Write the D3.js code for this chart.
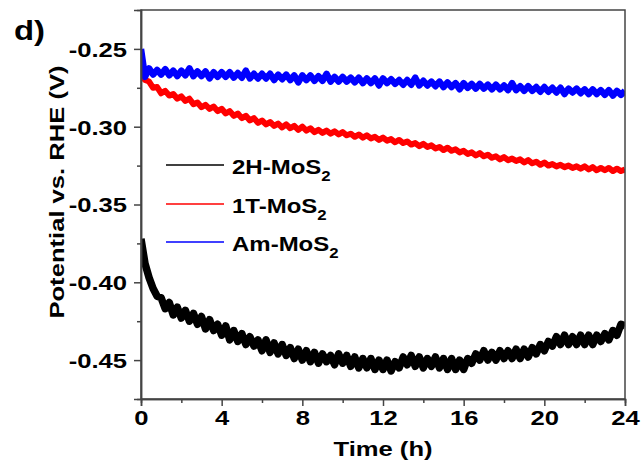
<!DOCTYPE html>
<html><head><meta charset="utf-8">
<script src="https://cdn.jsdelivr.net/npm/d3@7"></script>
<style>
html,body{margin:0;padding:0;background:#fff;}
svg text{font-family:"Liberation Sans",Arial,sans-serif;font-weight:bold;fill:#000;}
</style></head>
<body><svg id="chart" width="641" height="461"></svg>
<script>
// ---- data ----
const sampleStep = 0.2; // h between samples
const seriesNames = ["2H-MoS", "1T-MoS", "Am-MoS"];
const seriesColors = ["#000000", "#ff0000", "#0000ff"];
const xTicks = [0, 4, 8, 12, 16, 20, 24];
const yTicks = [-0.45, -0.40, -0.35, -0.30, -0.25];

const black2H = [
-0.372,-0.388,-0.397,-0.404,-0.409,-0.410,-0.417,-0.413,-0.421,-0.416,
-0.423,-0.418,-0.425,-0.420,-0.427,-0.422,-0.430,-0.424,-0.431,-0.427,
-0.434,-0.428,-0.437,-0.431,-0.438,-0.433,-0.440,-0.435,-0.441,-0.437,
-0.444,-0.437,-0.445,-0.439,-0.446,-0.440,-0.447,-0.442,-0.449,-0.443,
-0.450,-0.444,-0.451,-0.445,-0.452,-0.446,-0.451,-0.447,-0.453,-0.446,
-0.452,-0.447,-0.454,-0.448,-0.455,-0.449,-0.455,-0.449,-0.456,-0.450,
-0.456,-0.450,-0.457,-0.451,-0.455,-0.448,-0.453,-0.447,-0.454,-0.448,
-0.455,-0.449,-0.454,-0.448,-0.455,-0.449,-0.456,-0.449,-0.456,-0.450,
-0.456,-0.449,-0.452,-0.446,-0.450,-0.444,-0.450,-0.445,-0.450,-0.444,
-0.449,-0.444,-0.449,-0.443,-0.449,-0.443,-0.448,-0.442,-0.446,-0.440,
-0.444,-0.438,-0.441,-0.435,-0.440,-0.434,-0.440,-0.435,-0.440,-0.434,
-0.440,-0.434,-0.440,-0.434,-0.438,-0.433,-0.437,-0.431,-0.434,-0.427,
-0.428];

const red1T = [
-0.2650,-0.2700,-0.2710,-0.2750,-0.2745,-0.2785,-0.2770,-0.2800,-0.2790,-0.2820,
-0.2805,-0.2835,-0.2820,-0.2855,-0.2845,-0.2875,-0.2860,-0.2885,-0.2870,-0.2900,
-0.2885,-0.2915,-0.2900,-0.2930,-0.2915,-0.2945,-0.2930,-0.2960,-0.2945,-0.2975,
-0.2960,-0.2985,-0.2970,-0.2995,-0.2980,-0.3005,-0.2985,-0.3010,-0.2995,-0.3020,
-0.3000,-0.3025,-0.3010,-0.3035,-0.3020,-0.3040,-0.3025,-0.3045,-0.3030,-0.3050,
-0.3035,-0.3055,-0.3045,-0.3065,-0.3050,-0.3070,-0.3055,-0.3075,-0.3065,-0.3085,
-0.3070,-0.3090,-0.3080,-0.3100,-0.3085,-0.3105,-0.3095,-0.3115,-0.3105,-0.3125,
-0.3110,-0.3130,-0.3120,-0.3140,-0.3130,-0.3150,-0.3135,-0.3155,-0.3145,-0.3165,
-0.3155,-0.3175,-0.3165,-0.3185,-0.3170,-0.3190,-0.3180,-0.3200,-0.3190,-0.3210,
-0.3195,-0.3215,-0.3205,-0.3220,-0.3210,-0.3230,-0.3215,-0.3235,-0.3225,-0.3245,
-0.3230,-0.3250,-0.3240,-0.3255,-0.3245,-0.3260,-0.3250,-0.3265,-0.3255,-0.3270,
-0.3255,-0.3275,-0.3260,-0.3280,-0.3265,-0.3280,-0.3265,-0.3285,-0.3270,-0.3285,
-0.3275];

const blueAm = [
-0.2500,-0.2680,-0.2625,-0.2665,-0.2635,-0.2665,-0.2630,-0.2670,-0.2640,-0.2675,
-0.2640,-0.2670,-0.2625,-0.2675,-0.2645,-0.2675,-0.2645,-0.2690,-0.2650,-0.2680,
-0.2650,-0.2680,-0.2650,-0.2685,-0.2655,-0.2685,-0.2640,-0.2690,-0.2660,-0.2690,
-0.2660,-0.2690,-0.2660,-0.2700,-0.2665,-0.2695,-0.2665,-0.2700,-0.2670,-0.2715,
-0.2670,-0.2700,-0.2670,-0.2705,-0.2675,-0.2705,-0.2660,-0.2710,-0.2680,-0.2710,
-0.2680,-0.2710,-0.2685,-0.2715,-0.2685,-0.2720,-0.2690,-0.2720,-0.2690,-0.2735,
-0.2690,-0.2720,-0.2695,-0.2725,-0.2700,-0.2730,-0.2700,-0.2730,-0.2685,-0.2735,
-0.2705,-0.2735,-0.2710,-0.2740,-0.2710,-0.2745,-0.2715,-0.2745,-0.2720,-0.2760,
-0.2720,-0.2750,-0.2725,-0.2755,-0.2725,-0.2755,-0.2730,-0.2760,-0.2730,-0.2760,
-0.2735,-0.2765,-0.2720,-0.2765,-0.2740,-0.2770,-0.2740,-0.2770,-0.2745,-0.2775,
-0.2745,-0.2775,-0.2750,-0.2780,-0.2750,-0.2790,-0.2755,-0.2780,-0.2755,-0.2785,
-0.2760,-0.2790,-0.2760,-0.2790,-0.2765,-0.2795,-0.2765,-0.2800,-0.2770,-0.2795,
-0.2770];

const seriesValues = [black2H, red1T, blueAm];

// ---- layout ----
const L = 141, R = 625, T = 10, B = 399;
const SX = 1.22; // horizontal text stretch
const svg = d3.select("#chart");
const x = d3.scaleLinear().domain([0, 24]).range([L, R]);
const y = d3.scaleLinear().domain([-0.475, -0.225]).range([B, T]);

svg.append("defs").append("clipPath").attr("id", "clip")
  .append("rect").attr("x", L).attr("y", T).attr("width", R - L).attr("height", B - T);

const line = d3.line().x((d, i) => x(i * sampleStep)).y(d => y(d));
const widths = [7.5, 6, 6.5];
seriesValues.forEach((vals, k) => {
  svg.append("path").datum(vals)
    .attr("clip-path", "url(#clip)")
    .attr("fill", "none")
    .attr("stroke", seriesColors[k])
    .attr("stroke-width", widths[k])
    .attr("stroke-linejoin", "round")
    .attr("d", line);
});

// frame
svg.append("rect").attr("x", L).attr("y", T).attr("width", R - L).attr("height", B - T)
  .attr("fill", "none").attr("stroke", "#444").attr("stroke-width", 1.5);

// axes
const fmt = d => d3.format(".2f")(d).replace("\u2212", "-");
const yAxis = d3.axisLeft(y).tickValues(yTicks).tickFormat(fmt).tickSize(7).tickPadding(5);
const gy = svg.append("g").attr("transform", `translate(${L},0)`).call(yAxis);
const yMinor = d3.axisLeft(y).tickValues([-0.425, -0.375, -0.325, -0.275]).tickFormat("").tickSize(4);
svg.append("g").attr("transform", `translate(${L},0)`).call(yMinor);

const xAxis = d3.axisBottom(x).tickValues(xTicks).tickFormat(d3.format("d")).tickSize(7).tickPadding(4);
const gx = svg.append("g").attr("transform", `translate(0,${B})`).call(xAxis);
const xMinor = d3.axisBottom(x).tickValues([2, 6, 10, 14, 18, 22]).tickFormat("").tickSize(4);
svg.append("g").attr("transform", `translate(0,${B})`).call(xMinor);

svg.selectAll(".domain").attr("stroke", "#444").attr("stroke-width", 1.5);
svg.selectAll(".tick line").attr("stroke", "#444").attr("stroke-width", 1.5);
svg.selectAll(".tick text").style("font-size", "21px").style("font-family", '"Liberation Sans",Arial,sans-serif').style("font-weight", "bold").attr("fill", "#000");
gy.selectAll(".tick text").attr("x", -14 / SX).attr("dy", "0.35em").attr("transform", `scale(${SX},1)`);
gx.selectAll(".tick text").attr("transform", `scale(${SX},1)`);

// axis titles
svg.append("text").attr("transform", `translate(${(L + R) / 2},456) scale(${SX},1)`).attr("text-anchor", "middle")
  .style("font-size", "21px").text("Time (h)");
svg.append("text").attr("transform", `translate(64,192) rotate(-90) scale(${SX},1)`).attr("text-anchor", "middle")
  .style("font-size", "21px").text("Potential vs. RHE (V)");

// panel label
svg.append("text").attr("transform", `translate(14,40) scale(${SX},1)`).style("font-size", "27px").text("d)");

// legend
const legY = [165, 204, 242];
seriesNames.forEach((name, k) => {
  svg.append("line").attr("x1", 166).attr("x2", 224).attr("y1", legY[k]).attr("y2", legY[k])
    .attr("stroke", seriesColors[k]).attr("stroke-width", 1.5);
  const t = svg.append("text").attr("transform", `translate(232,${legY[k] + 8.5}) scale(1.2,1)`).style("font-size", "20px");
  t.append("tspan").text(name);
  t.append("tspan").attr("dy", 7).style("font-size", "14px").text("2");
});
</script></body></html>
